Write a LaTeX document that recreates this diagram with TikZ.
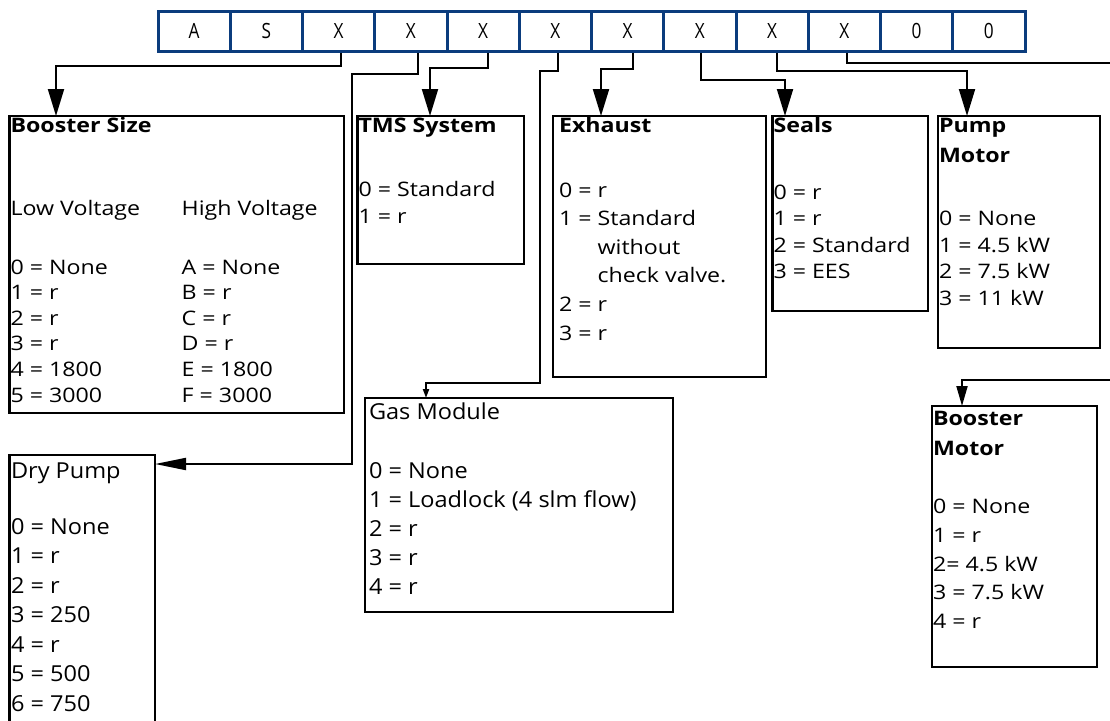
\documentclass[tikz,border=0pt]{standalone}
\usepackage{fontspec}
\newfontfamily\fA[FakeStretch=1.16]{Open Sans}
\newfontfamily\fB[FakeStretch=1.07]{Open Sans}
\newfontfamily\fH[FakeStretch=0.82]{Open Sans}
\usetikzlibrary{arrows.meta}
\definecolor{hdrblue}{HTML}{0B3C7D}
\tikzset{
  hcell/.style={draw=hdrblue, line width=3pt, minimum width=72.25pt, minimum height=40pt,
    inner sep=0pt, text height=15pt, text depth=0pt, font=\fH\fontsize{21}{22}\selectfont},
  box/.style={draw, line width=2.2pt, inner sep=0pt, outer sep=0pt, anchor=north west},
  ta/.style={anchor=north west, inner sep=0pt, outer sep=0pt, align=left,
    font=\fA\fontsize{20}{25.6}\selectfont},
  tb/.style={anchor=north west, inner sep=0pt, outer sep=0pt, align=left,
    font=\fB\fontsize{22}{29.2}\selectfont},
  conn/.style={line width=2pt},
  bigarr/.style={-{Triangle[length=27pt,width=16pt]}},
  dryarr/.style={-{Triangle[length=31pt,width=12pt]}},
  gasarr/.style={-{Triangle[length=9pt,width=6pt]}},
  bmarr/.style={-{Triangle[length=20pt,width=11pt]}}
}
\begin{document}
\begin{tikzpicture}[x=1pt,y=-1pt]
\useasboundingbox (0,0) rectangle (1110,720);
\clip (0,0) rectangle (1110,720);

% header code
\foreach \t [count=\i] in {A,S,X,X,X,X,X,X,X,X,0,0}
  \node[hcell] (h\i) at ({158+72.25*\i-36.125},31) {\t};

% boxes
\node[box, minimum width=334.5pt, minimum height=297pt] (bs) at (9.5,116) {};
\node[box, minimum width=166.5pt, minimum height=148pt] (tms) at (357.5,116) {};
\node[box, minimum width=213pt, minimum height=261pt] (exh) at (553,116) {};
\node[box, minimum width=155.5pt, minimum height=195pt] (seal) at (772.5,116) {};
\node[box, minimum width=162.3pt, minimum height=231.7pt] (pm) at (937.7,116) {};
\node[box, minimum width=308pt, minimum height=213.7pt] (gas) at (365,398) {};
\node[box, minimum width=145.5pt, minimum height=275pt] (dry) at (9.5,455) {};
\node[box, minimum width=165pt, minimum height=260.7pt] (bm) at (932,406) {};

% texts
\node[ta] (bsL) at (10.5,116) {\rule{0pt}{16pt}\textbf{Booster Size}\\[57.4pt]
  Low Voltage\\[33.4pt] 0 = None\\ 1 = r\\ 2 = r\\ 3 = r\\ 4 = 1800\\ 5 = 3000};
\node[ta] (bsR) at (181.7,199) {\rule{0pt}{16pt}High Voltage\\[33.4pt]
  A = None\\ B = r\\ C = r\\ D = r\\ E = 1800\\ F = 3000};
\node[ta, font=\fA\fontsize{20}{27}\selectfont] (tmsT) at (358.5,116)
  {\rule{0pt}{16pt}\textbf{TMS System}\\[37pt] 0 = Standard\\ 1 = r};
\node[ta, font=\fA\fontsize{20}{28.6}\selectfont] (exT) at (559,116)
  {\rule{0pt}{16pt}\textbf{Exhaust}\\[36.4pt] 0 = r\\ 1 = Standard\\
   \hphantom{1 = }without\\ \hphantom{1 = }check valve.\\ 2 = r\\ 3 = r};
\node[ta, font=\fA\fontsize{20}{26.5}\selectfont] (seT) at (773.5,116)
  {\rule{0pt}{16pt}\textbf{Seals}\\[40.5pt] 0 = r\\ 1 = r\\ 2 = Standard\\ 3 = EES};
\node[ta, font=\fA\fontsize{20}{26.5}\selectfont] (pmT) at (939,116)
  {\rule{0pt}{16pt}\textbf{Pump}\\[3.5pt] \textbf{Motor}\\[37pt] 0 = None\\ 1 = 4.5 kW\\
   2 = 7.5 kW\\ 3 = 11 kW};
\node[ta, font=\fA\fontsize{20}{28.7}\selectfont] (bmT) at (933,409)
  {\rule{0pt}{16pt}\textbf{Booster}\\[1.3pt] \textbf{Motor}\\[30pt] 0 = None\\ 1 = r\\
   2= 4.5 kW\\ 3 = 7.5 kW\\ 4 = r};
\node[tb] (gasT) at (369,401.6)
  {\rule{0pt}{18pt}Gas Module\\[29.2pt] 0 = None\\ 1 = Loadlock (4 slm flow)\\
   2 = r\\ 3 = r\\ 4 = r};
\node[tb, font=\fB\fontsize{22}{29.5}\selectfont] (dryT) at (11,460)
  {\rule{0pt}{18pt}Dry Pump\\[26.5pt] 0 = None\\ 1 = r\\ 2 = r\\ 3 = 250\\ 4 = r\\
   5 = 500\\ 6 = 750};

% connector coordinates
\coordinate (s1) at (h3.south -| 341,0);
\coordinate (s2) at (h4.south -| 417.7,0);
\coordinate (s3) at (h5.south -| 488,0);
\coordinate (s4) at (h6.south -| 558,0);
\coordinate (s5) at (h7.south -| 633,0);
\coordinate (s6) at (h8.south -| 700.7,0);
\coordinate (s7) at (h9.south -| 777,0);
\coordinate (s8) at (h10.south -| 846.7,0);
\coordinate (t1) at ([xshift=46.5pt]bs.north west);
\coordinate (t2) at ([yshift=-9pt]dry.north east);
\coordinate (k2) at (t2 -| 352,0);
\coordinate (t3) at ([xshift=72.5pt]tms.north west);
\coordinate (t4) at ([xshift=61pt]gas.north west);
\coordinate (k4) at (540,383);
\coordinate (t5) at ([xshift=48pt]exh.north west);
\coordinate (t6) at ([xshift=12.5pt]seal.north west);
\coordinate (t7) at ([xshift=29.3pt]pm.north west);
\coordinate (t8) at ([xshift=30pt]bm.north west);
\coordinate (e8a) at (1114,63);
\coordinate (e8b) at (1114,380);

% connectors
\draw[conn, bigarr] (s1) -- (s1 |- 0,66) -| (t1);
\draw[conn, dryarr] (s2) -- (s2 |- 0,74) -| (k2) -- (t2);
\draw[conn, bigarr] (s3) -- (s3 |- 0,68) -| (t3);
\draw[conn, gasarr] (s4) -- (s4 |- 0,71) -| (k4) -| (t4);
\draw[conn, bigarr] (s5) -- (s5 |- 0,69) -| (t5);
\draw[conn, bigarr] (s6) -- (s6 |- 0,80) -| (t6);
\draw[conn, bigarr] (s7) -- (s7 |- 0,71) -| (t7);
\draw[conn] (s8) -- (s8 |- 0,63) -- (e8a);
\draw[conn, bmarr] (e8b) -| (t8);
\end{tikzpicture}
\end{document}
